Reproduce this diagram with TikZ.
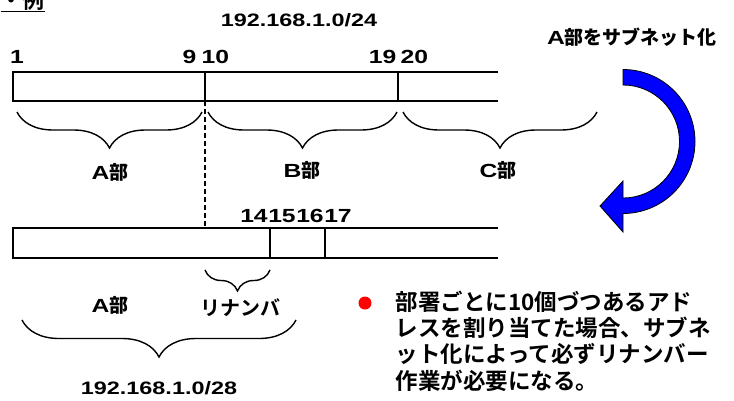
\documentclass[tikz,border=0pt]{standalone}
\usepackage{fontspec}
\setmainfont{Liberation Sans}[FakeStretch=1.3]
\newfontfamily\jp{Noto Sans CJK JP Bold}
\usetikzlibrary{decorations.pathreplacing}

\tikzset{
  brc/.style={decorate,decoration={brace,amplitude=#1}},
  num/.style={inner sep=0pt,font=\bfseries\fontsize{19}{19}\selectfont},
  dept/.style={font=\bfseries\fontsize{19}{19}\selectfont},
  addr/.style={font=\bfseries\fontsize{18}{18}\selectfont},
}

\begin{document}
\begin{tikzpicture}[x=1pt,y=-1pt,line width=1.4pt]
\useasboundingbox (0,0) rectangle (734,400);

% title
\node[anchor=base west,inner sep=0pt,font=\jp\fontsize{22}{22}\selectfont] (rei) at (0,8) {\underline{・例}};
\node[addr] (net24) at (299,20) {192.168.1.0/24};

% draw upper bar
\draw (498,72) -- (13,72) -- (13,101) -- (498,101);
\foreach \x in {205,398}
\draw (\x,72) -- (\x,101);

% upper numbers
\node[num,anchor=base] (n1) at (17,63) {1};
\node[num,anchor=base east] (n9) at (197,63) {9};
\node[num,anchor=base west] (n10) at (201,63) {10};
\node[num,anchor=base east] (n19) at (397,63) {19};
\node[num,anchor=base west] (n20) at (400,63) {20};

% upper braces
\draw[brc=36] (202,112) -- (17,112);
\draw[brc=36] (397,112) -- (208,112);
\draw[brc=36] (597,112) -- (403,112);
\node[dept] (depA) at (110,172) {A{\jp 部}};
\node[dept] (depB) at (302,170) {B{\jp 部}};
\node[dept] (depC) at (498,170) {C{\jp 部}};

% dashed line
\draw[dash pattern=on 5pt off 3pt] (205,101) -- (205,228);

% draw lower bar
\draw (498,228) -- (13,228) -- (13,258) -- (498,258);
\foreach \x in {270,325}
\draw (\x,228) -- (\x,258);

% lower numbers
\node[num,anchor=base] (n14) at (254,222) {14};
\node[num,anchor=base] (n15) at (282,222) {15};
\node[num,anchor=base] (n16) at (310,222) {16};
\node[num,anchor=base] (n17) at (338,222) {17};

% lower braces
\draw[brc=21] (270,270) -- (205,270);
\draw[brc=37] (296,320) -- (22,320);
\node[dept] (depA2) at (110,305) {A{\jp 部}};
\node[dept,font=\jp\fontsize{20}{20}\selectfont] (renum) at (240,308) {リナンバ};
\node[addr] (net28) at (159,388) {192.168.1.0/28};

% arrow
\node[dept] (subnet) at (632,37) {A{\jp 部をサブネット化}};
\filldraw[fill=blue,draw=black,line width=0.8pt] (623,69.5) arc[start angle=-90,end angle=90,radius=72]
  -- (623,232) -- (600,206) -- (623,181) -- (623,198)
  arc[start angle=90,end angle=-90,radius=56.5] -- cycle;

% note
\node[circle,fill=red,inner sep=0pt,minimum size=13pt] (dot) at (365,303) {};
\node[anchor=north west,align=left,inner sep=0pt,font=\jp\fontsize{22.5}{26.3}\selectfont] (note) at (395,290)
  {部署ごとに10個づつあるアド\\レスを割り当てた場合、サブネ\\ット化によって必ずリナンバー\\作業が必要になる。};

\end{tikzpicture}
\end{document}
